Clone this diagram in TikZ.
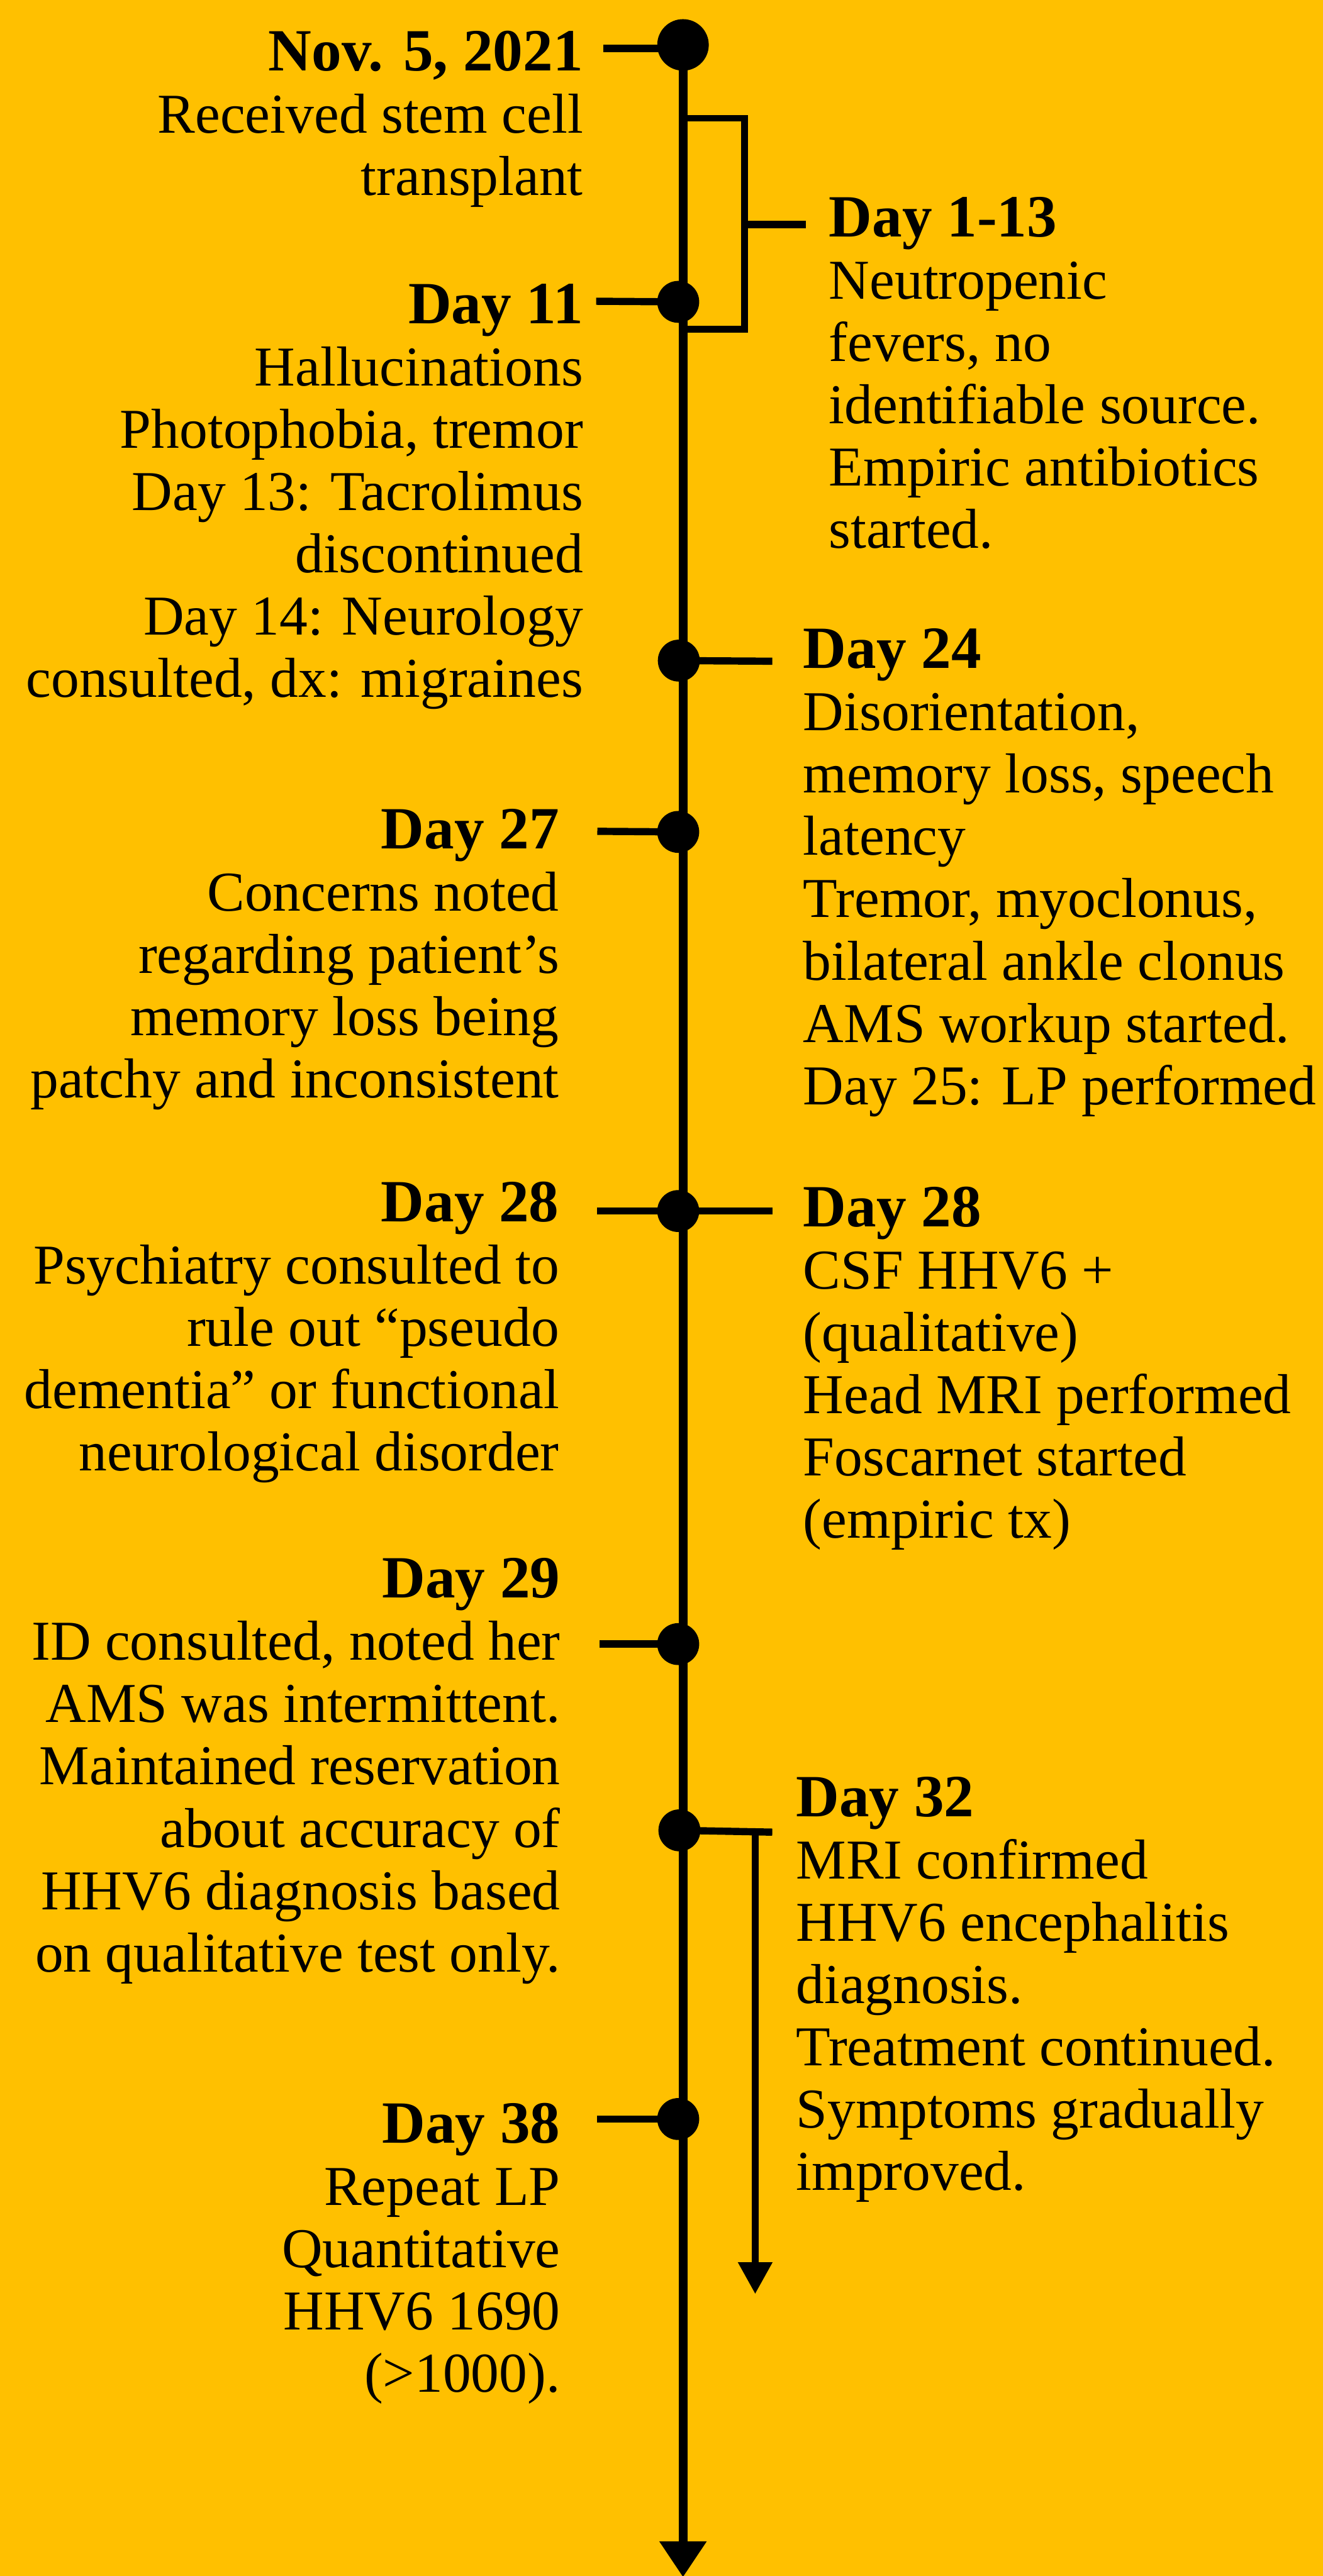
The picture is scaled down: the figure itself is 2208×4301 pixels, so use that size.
\documentclass[tikz,border=0pt]{standalone}
\usepackage{fontspec}
\setmainfont{Liberation Serif}
\usetikzlibrary{arrows.meta}
\definecolor{bgyellow}{RGB}{255,192,0}
\newcommand\Lblock[1]{\begin{tabular}[t]{@{}r@{}}#1\end{tabular}}
\newcommand\Rblock[1]{\begin{tabular}[t]{@{}l@{}}#1\end{tabular}}
\newcommand\hd[1]{{\fontsize{25}{26}\selectfont\bfseries #1}}
\begin{document}
\begin{tikzpicture}[x=0.25pt,y=-0.25pt,
  txt/.style={inner sep=0pt, font=\fontsize{23.5}{26}\selectfont},
  ltxt/.style={txt, anchor=base east},
  rtxt/.style={txt, anchor=base west},
  bigdot/.style={circle, fill=black, inner sep=0pt, minimum size=21.5pt},
  evdot/.style={circle, fill=black, inner sep=0pt, minimum size=17.5pt},
  mainline/.style={line width=3.75pt},
  tickline/.style={line width=3pt},
  thinline/.style={line width=2.75pt}]
\useasboundingbox (0,0) rectangle (2208,4301);
\fill[bgyellow] (0,0) rectangle (2208,4301);

% dots
\node[bigdot] (d0) at (1140,75) {};
\node[evdot] (d11) at (1132,504) {};
\node[evdot] (d24) at (1133,1103) {};
\node[evdot] (d27) at (1132,1389) {};
\node[evdot] (d28) at (1132,2022) {};
\node[evdot] (d29) at (1132,2745) {};
\node[evdot] (d32) at (1134,3056) {};
\node[evdot] (d38) at (1132,3538) {};

% coordinates
\coordinate (bot) at (1140,4303);
\coordinate (t0) at (1007,81);
\coordinate (t11) at (995,503);
\coordinate (t24) at (1289,1104);
\coordinate (t27) at (997,1388);
\coordinate (t28l) at (997,2022);
\coordinate (t28r) at (1289,2022);
\coordinate (t29) at (1001,2745);
\coordinate (t32) at (1289,3059);
\coordinate (t38) at (997,3538);
\coordinate (b1) at (1140,197.5);
\coordinate (b2) at (1242.5,197.5);
\coordinate (b3) at (1242.5,549.5);
\coordinate (b4) at (1140,549.5);
\coordinate (b5) at (1242.5,375);
\coordinate (t113) at (1345,375);
\coordinate (a32s) at (1260.5,3059);
\coordinate (a32e) at (1260.5,3830);

% main axis
\draw[mainline, -{Triangle[width=18.75pt,length=15pt]}] (d0.center) -- (bot);

% bracket for Day 1-13
\draw[thinline] (b1) -- (b2) -- (b3) -- (b4);
\draw[tickline] (b5) -- (t113);

% ticks
\draw[tickline] (t0) -- (d0.center |- t0);
\draw[tickline] (t11) -- (d11.center);
\draw[tickline] (d24.center) -- (t24);
\draw[tickline] (t27) -- (d27.center);
\draw[tickline] (t28l) -- (d28.center) -- (t28r);
\draw[tickline] (t29) -- (d29.center);
\draw[tickline] (d32.center) -- (t32);
\draw[thinline, -{Triangle[width=13.75pt,length=13.25pt]}] (a32s) -- (a32e);
\draw[tickline] (t38) -- (d38.center);

% left texts
\node[ltxt] (n0) at (974,118) {\Lblock{\hd{Nov. 5, 2021}\\Received stem cell\\transplant}};
\node[ltxt] (n11) at (974,540) {\Lblock{\hd{Day 11}\\Hallucinations\\Photophobia, tremor\\Day 13: Tacrolimus\\discontinued\\Day 14: Neurology\\consulted, dx: migraines}};
\node[ltxt] (n27) at (934,1417) {\Lblock{\hd{Day 27}\\Concerns noted\\regarding patient’s\\memory loss being\\patchy and inconsistent}};
\node[ltxt] (n28l) at (934,2040) {\Lblock{\hd{Day 28}\\Psychiatry consulted to\\rule out “pseudo\\dementia” or functional\\neurological disorder}};
\node[ltxt] (n29) at (936,2668) {\Lblock{\hd{Day 29}\\ID consulted, noted her\\AMS was intermittent.\\Maintained reservation\\about accuracy of\\HHV6 diagnosis based\\on qualitative test only.}};
\node[ltxt] (n38) at (936,3578) {\Lblock{\hd{Day 38}\\Repeat LP\\Quantitative\\HHV6 1690\\(>1000).}};

% right texts
\node[rtxt] (n113) at (1383,395) {\Rblock{\hd{Day 1-13}\\Neutropenic\\fevers, no\\identifiable source.\\Empiric antibiotics\\started.}};
\node[rtxt] (n24) at (1340,1116) {\Rblock{\hd{Day 24}\\Disorientation,\\memory loss, speech\\latency\\Tremor, myoclonus,\\bilateral ankle clonus\\AMS workup started.\\Day 25: LP performed}};
\node[rtxt] (n28r) at (1340,2048) {\Rblock{\hd{Day 28}\\CSF HHV6 +\\(qualitative)\\Head MRI performed\\Foscarnet started\\(empiric tx)}};
\node[rtxt] (n32) at (1328,3033) {\Rblock{\hd{Day 32}\\MRI confirmed\\HHV6 encephalitis\\diagnosis.\\Treatment continued.\\Symptoms gradually\\improved.}};
\end{tikzpicture}
\end{document}
